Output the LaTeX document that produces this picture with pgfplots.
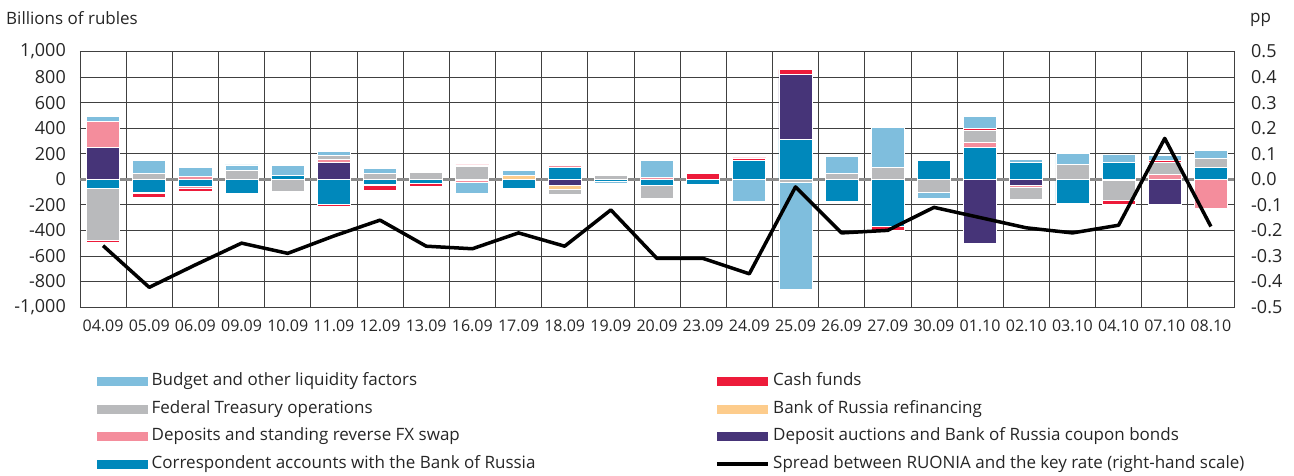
\documentclass[border=0pt]{standalone}
\usepackage{pgfplots}
\pgfplotsset{compat=1.18}
\usepackage{pgfplotstable}
\usepackage{fontspec}
\setmainfont{Open Sans}

\definecolor{cbud}{RGB}{127,190,221}
\definecolor{cfed}{RGB}{185,186,188}
\definecolor{cdep}{RGB}{244,141,156}
\definecolor{ccorr}{RGB}{0,136,187}
\definecolor{ccash}{RGB}{237,27,58}
\definecolor{crefin}{RGB}{253,204,140}
\definecolor{cdauc}{RGB}{70,52,120}

% positive parts, stacked up from zero
\pgfplotstableread{
x  corr dauc refin dep fed cash bud
0  0    250  0     205 0   0    35
1  0    0    0     0   47  0    101
2  0    0    0     25  0   0    70
3  0    0    0     0   70  0    42
4  28   0    0     0   0   0    82
5  0    135  0     22  30  0    28
6  0    0    0     0   42  0    46
7  0    0    0     0   52  0    0
8  0    0    0     0   97  15   0
9  0    0    32    0   0   0    40
10 95   0    0     10  0   0    0
11 0    0    0     0   30  0    0
12 0    0    0     15  0   0    133
13 0    0    0     0   0   43   0
14 145  0    0     0   0   22   0
15 312  508  0     0   0   38   0
16 0    0    0     0   48  0    132
17 0    0    0     0   90  0    317
18 150  0    0     0   0   0    0
19 252  0    0     35  95  15   93
20 135  0    0     0   0   0    20
21 0    0    0     0   118 0    85
22 128  0    0     0   0   0    65
23 0    0    0     35  100 15   37
24 92   0    0     0   70  0    64
}\pos

% negative parts, stacked down from zero
\pgfplotstableread{
x  corr dauc refin dep  fed  cash bud
0  -72  0    0     0    -405 -15  0
1  -100 0    0     -12  0    -33  0
2  -58  0    0     -10  0    -28  0
3  -110 0    0     0    0    0    0
4  0    0    0     0    -95  -10  0
5  -200 0    0     0    0    -15  0
6  -38  0    0     -10  0    -42  0
7  -32  0    0     0    0    -25  0
8  -12  0    0     -15  0    0    -85
9  -68  0    0     0    0    0    0
10 0    -50  -33   0    -32  0    0
11 -14  0    0     0    0    0    -22
12 -47  0    0     0    -100 0    0
13 -43  0    0     0    0    0    0
14 0    0    0     0    0    0    -172
15 0    0    0     0    -25  0    -835
16 -172 0    0     0    0    0    0
17 -370 0    0     0    0    -28  0
18 0    0    0     0    -105 0    -46
19 0    -500 0     0    0    0    0
20 0    -50  0     -12  -95  0    0
21 -187 0    0     0    0    -12  0
22 0    0    0     -8   -160 -25  0
23 0    -195 0     0    0    0    0
24 0    0    0     -225 0    0    0
}\neg

\pgfplotstableread{
x  s
0  -0.26
1  -0.423
2  -0.335
3  -0.25
4  -0.29
5  -0.222
6  -0.16
7  -0.262
8  -0.272
9  -0.21
10 -0.262
11 -0.12
12 -0.31
13 -0.31
14 -0.37
15 -0.03
16 -0.21
17 -0.20
18 -0.11
19 -0.15
20 -0.19
21 -0.21
22 -0.18
23 0.16
24 -0.185
}\spread

\pgfplotsset{
  base/.style={scale only axis, width=1154pt, height=255.5pt,
    xmin=-0.5, xmax=24.5, ymin=-1000, ymax=1000,
    at={(0pt,0pt)}, anchor=south west},
  leg/.style={legend cell align=left,
    legend image code/.code={\fill[##1, draw=none] (0pt,-4.5pt) rectangle (51pt,4.5pt);},
    legend style={anchor=north west, draw=none, fill=none, inner sep=0pt,
      row sep=12pt, font=\fontsize{17}{20}\selectfont,
      nodes={inner xsep=3.5pt, inner ysep=0pt, text height=12pt, text depth=3.5pt, text=black!85}}},
  bars/.style={base, hide axis, ybar stacked, bar width=33pt},
}

\begin{document}
\begin{tikzpicture}
\path[use as bounding box] (-80pt,-168pt) rectangle (1214pt,307pt);

\begin{axis}[base, leg,
  xtick={0,...,24},
  xticklabels={04.09,05.09,06.09,09.09,10.09,11.09,12.09,13.09,16.09,17.09,18.09,19.09,20.09,23.09,24.09,25.09,26.09,27.09,30.09,01.10,02.10,03.10,04.10,07.10,08.10},
  minor xtick={-0.5,0.5,...,24.5},
  xminorgrids, ymajorgrids,
  ytick={-1000,-800,...,1000},
  major tick length=0pt, minor tick length=0pt,
  grid style={black!75, line width=0.75pt},
  minor grid style={black!75, line width=0.75pt},
  axis line style={black!75, line width=0.75pt},
  extra y ticks={0}, extra y tick labels={},
  extra y tick style={grid style={black!45, line width=2.5pt}},
  xticklabel style={font=\fontsize{16}{18}\selectfont, text=black!85, inner sep=0pt, yshift=-13pt},
  yticklabel style={font=\fontsize{18}{20}\selectfont, text=black!85, inner sep=0pt, xshift=-14pt,
    /pgf/number format/1000 sep={,}, /pgf/number format/assume math mode=true},
  legend style={at={(0.01473,-0.2613)}},
]
\addlegendimage{fill=cbud}\addlegendentry{Budget and other liquidity factors}
\addlegendimage{fill=cfed}\addlegendentry{Federal Treasury operations}
\addlegendimage{fill=cdep}\addlegendentry{Deposits and standing reverse FX swap}
\addlegendimage{fill=ccorr}\addlegendentry{Correspondent accounts with the Bank of Russia}
\end{axis}

\begin{axis}[bars]
\addplot[fill=ccorr, draw=white, line width=0.8pt] table[x=x,y=corr]{\pos};
\addplot[fill=cdauc, draw=white, line width=0.8pt] table[x=x,y=dauc]{\pos};
\addplot[fill=crefin, draw=white, line width=0.8pt] table[x=x,y=refin]{\pos};
\addplot[fill=cdep, draw=white, line width=0.8pt] table[x=x,y=dep]{\pos};
\addplot[fill=cfed, draw=white, line width=0.8pt] table[x=x,y=fed]{\pos};
\addplot[fill=ccash, draw=white, line width=0.8pt] table[x=x,y=cash]{\pos};
\addplot[fill=cbud, draw=white, line width=0.8pt] table[x=x,y=bud]{\pos};
\end{axis}

\begin{axis}[bars]
\addplot[fill=ccorr, draw=white, line width=0.8pt] table[x=x,y=corr]{\neg};
\addplot[fill=cdauc, draw=white, line width=0.8pt] table[x=x,y=dauc]{\neg};
\addplot[fill=crefin, draw=white, line width=0.8pt] table[x=x,y=refin]{\neg};
\addplot[fill=cdep, draw=white, line width=0.8pt] table[x=x,y=dep]{\neg};
\addplot[fill=cfed, draw=white, line width=0.8pt] table[x=x,y=fed]{\neg};
\addplot[fill=ccash, draw=white, line width=0.8pt] table[x=x,y=cash]{\neg};
\addplot[fill=cbud, draw=white, line width=0.8pt] table[x=x,y=bud]{\neg};
\end{axis}

\begin{axis}[base, leg, ymin=-0.5, ymax=0.5,
  axis y line*=right, axis x line=none,
  ytick={-0.5,-0.4,-0.3,-0.2,-0.1,0,0.1,0.2,0.3,0.4,0.5},
  major tick length=0pt,
  axis line style={draw=none},
  yticklabel style={font=\fontsize{18}{20}\selectfont, text=black!85, inner sep=0pt, anchor=west, xshift=17pt,
    /pgf/number format/fixed, /pgf/number format/fixed zerofill,
    /pgf/number format/precision=1, /pgf/number format/assume math mode=true},
  legend style={at={(0.5503,-0.2613)}},
]
\addlegendimage{fill=ccash}\addlegendentry{Cash funds}
\addlegendimage{fill=crefin}\addlegendentry{Bank of Russia refinancing}
\addlegendimage{fill=cdauc}\addlegendentry{Deposit auctions and Bank of Russia coupon bonds}
\addplot[black, line width=3.5pt, line join=round,
  legend image code/.code={\draw[black, line width=3.5pt] (0pt,0pt) -- (51pt,0pt);}]
  table[x=x,y=s]{\spread};
\addlegendentry{Spread between RUONIA and the key rate (right-hand scale)}
\end{axis}

\node[anchor=base west, font=\fontsize{17}{20}\selectfont, text=black!85, inner sep=0pt] at (-74pt,283pt) {Billions of rubles};
\node[anchor=base west, font=\fontsize{17}{20}\selectfont, text=black!85, inner sep=0pt] at (1170pt,285pt) {pp};
\end{tikzpicture}
\end{document}
